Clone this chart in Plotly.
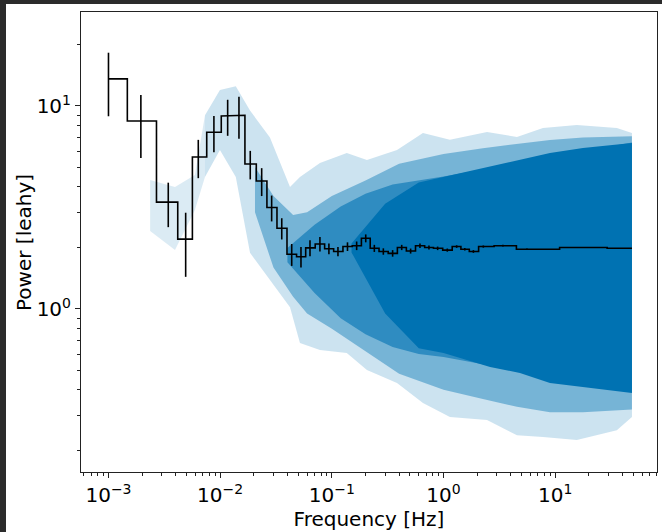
import plotly.graph_objects as go

# ---------------- data ----------------
# binned (black) power spectrum
bin_freq = [0.001, 0.00195, 0.00343, 0.00491, 0.00637, 0.00879, 0.01167, 0.01473,
            0.01859, 0.02353, 0.0289, 0.0356, 0.0437, 0.0529, 0.0637, 0.0782,
            0.0941, 0.1134, 0.138, 0.1667, 0.201, 0.240, 0.289, 0.350, 0.422,
            0.507, 0.615, 0.740, 0.885, 1.08, 1.31, 1.55, 1.85, 2.27, 3.40,
            5.58, 16.3, 42.0, 48.6]
bin_power = [13.6, 8.44, 3.36, 2.21, 5.61, 7.42, 8.93, 9.0,
             5.18, 4.27, 3.16, 2.50, 1.86, 1.81, 2.0, 2.09,
             1.98, 1.92, 2.03, 2.05, 2.23, 1.99, 1.92, 1.88, 2.01,
             1.93, 2.05, 2.01, 1.99, 1.95, 2.03, 1.97, 1.92, 2.03, 2.05,
             1.97, 2.01, 1.99, 1.99]
bin_err = [4.7, 2.9, 0.83, 0.77, 1.2, 1.5, 1.8, 2.1,
           0.83, 0.67, 0.46, 0.30, 0.23, 0.21, 0.18, 0.17,
           0.12, 0.10, 0.10, 0.10, 0.10, 0.08, 0.07, 0.07, 0.06,
           0.055, 0.05, 0.045, 0.04, 0.035, 0.03, 0.03, 0.03, 0.025, 0.02,
           0.015, 0.01, 0.01, 0.0]

# unbinned (blue) spectrum, drawn as density envelopes
low_freq = [0.00236, 0.00394, 0.00594, 0.00731]
low_hi = [4.32, 3.99, 4.57, 9.0]
low_lo = [2.42, 1.95, 3.07, 4.47]

outer_freq = [0.00731, 0.00995, 0.0138, 0.0185, 0.0279,
              0.0422, 0.0518, 0.0782, 0.136, 0.206, 0.383, 0.654, 1.14, 2.45,
              4.54, 7.76, 15.6, 35.6, 48.6]
outer_hi = [9.0, 12.0, 12.5, 9.5, 7.0,
            3.99, 4.47, 5.24, 5.86, 5.42, 6.07, 7.36, 6.81, 7.45,
            7.03, 7.80, 8.06, 7.80, 7.36]
outer_lo = [4.47, 6.07, 4.47, 1.89, 1.39,
            1.02, 0.680, 0.628, 0.607, 0.501, 0.432, 0.344, 0.294, 0.284,
            0.239, 0.234, 0.226, 0.253, 0.294]

mid_freq = [0.0205, 0.030, 0.045, 0.060, 0.100, 0.200, 0.400, 1.00, 2.25, 4.54, 8.97, 17.7, 48.6]
mid_hi = [5.0, 3.6, 2.9, 3.0, 3.6, 4.3, 5.2, 5.8, 6.2, 6.5, 6.8, 7.0, 7.1]
mid_lo = [3.0, 1.6, 1.15, 0.95, 0.80, 0.62, 0.48, 0.40, 0.36, 0.33, 0.31, 0.31, 0.32]

inner_freq = [0.040, 0.070, 0.120, 0.200, 0.350, 0.600, 1.00, 48.6]
inner_hi = [2.0, 2.6, 3.2, 3.7, 4.1, 4.3, 4.5, 6.6]
inner_lo = [1.7, 1.2, 0.90, 0.75, 0.65, 0.60, 0.58, 0.39]

core_freq = [0.150, 0.300, 0.600, 1.00, 2.61, 4.83, 8.97, 17.7, 48.6]
core_hi = [2.1, 3.3, 4.2, 4.47, 5.01, 5.42, 5.86, 6.21, 6.58]
core_lo = [1.9, 0.95, 0.64, 0.607, 0.518, 0.484, 0.432, 0.413, 0.386]

x_tickvals = [1e-3, 1e-2, 1e-1, 1e0, 1e1]
x_ticktext = ["10<sup>−3</sup>", "10<sup>−2</sup>", "10<sup>−1</sup>", "10<sup>0</sup>", "10<sup>1</sup>"]
y_tickvals = [1e0, 1e1]
y_ticktext = ["10<sup>0</sup>", "10<sup>1</sup>"]

BLUE = "#0072B2"
FONT = "DejaVu Sans"


def band(freq, hi, lo):
    return list(freq) + list(freq)[::-1], list(hi) + list(lo)[::-1]


def mid_steps(x, y):
    sx, sy = [x[0]], [y[0]]
    for i in range(1, len(x)):
        m = 0.5 * (x[i - 1] + x[i])
        sx += [m, m]
        sy += [y[i - 1], y[i]]
    sx.append(x[-1])
    sy.append(y[-1])
    return sx, sy


def minor_vals(lo_exp, hi_exp):
    return [k * 10.0 ** e for e in range(lo_exp, hi_exp + 1) for k in range(2, 10)]


fig = go.Figure()

for (f, hi, lo, col) in [
    (low_freq, low_hi, low_lo, "rgba(0,114,178,0.14)"),
    (outer_freq, outer_hi, outer_lo, "rgba(0,114,178,0.20)"),
    (mid_freq, mid_hi, mid_lo, "rgba(0,114,178,0.42)"),
    (inner_freq, inner_hi, inner_lo, "rgba(0,114,178,0.60)"),
    (core_freq, core_hi, core_lo, BLUE),
]:
    bx, by = band(f, hi, lo)
    fig.add_trace(go.Scatter(x=bx, y=by, fill="toself", fillcolor=col, mode="lines",
                             line=dict(width=0), hoverinfo="skip", showlegend=False))

sx, sy = mid_steps(bin_freq, bin_power)
fig.add_trace(go.Scatter(x=sx, y=sy, mode="lines", line=dict(color="black", width=1.6),
                         showlegend=False))
fig.add_trace(go.Scatter(x=bin_freq, y=bin_power, mode="markers",
                         marker=dict(size=1, color="rgba(0,0,0,0)"),
                         error_y=dict(type="data", array=bin_err, visible=True,
                                      width=0, thickness=1.6, color="black"),
                         showlegend=False))

L, R, T, B = 81, 5, 12, 60
W, H = 662, 532
pw, ph = W - L - R, H - T - B
DARK = "#2b2b2b"
shapes = [
    dict(type="rect", xref="paper", yref="paper",
         x0=-L / pw, x1=(6 - L) / pw, y0=-B / ph, y1=1 + T / ph,
         fillcolor=DARK, line=dict(width=0), layer="above"),
    dict(type="rect", xref="paper", yref="paper",
         x0=-L / pw, x1=(W - L) / pw, y0=1 + (T - 4) / ph, y1=1 + T / ph,
         fillcolor=DARK, line=dict(width=0), layer="above"),
]


def axis_common(minor_ticks):
    return dict(showline=True, linecolor="#222", linewidth=1, mirror=True,
                ticks="outside", ticklen=5, tickwidth=1, tickcolor="#222",
                showgrid=False, zeroline=False,
                tickfont=dict(family=FONT, size=20, color="black"),
                minor=dict(ticks="outside", ticklen=3, tickwidth=0.8,
                           tickcolor="#222", showgrid=False,
                           tickmode="array", tickvals=minor_ticks))


fig.update_layout(
    width=W, height=H,
    margin=dict(l=L, r=R, t=T, b=B),
    paper_bgcolor="white", plot_bgcolor="white",
    font=dict(family=FONT, size=20, color="black"),
    shapes=shapes,
    xaxis=dict(type="log", range=[-3.246, 1.911],
               tickvals=x_tickvals, ticktext=x_ticktext,
               title=dict(text="Frequency [Hz]", font=dict(family=FONT, size=20), standoff=2),
               **axis_common(minor_vals(-4, 1))),
    yaxis=dict(type="log", range=[-0.803, 1.463],
               tickvals=y_tickvals, ticktext=y_ticktext,
               **axis_common(minor_vals(-1, 1))),
    annotations=[dict(text="Power [leahy]", xref="paper", yref="paper",
                      x=(24 - L) / pw, y=(H - B - 243) / ph, textangle=-90,
                      showarrow=False, xanchor="center", yanchor="middle",
                      font=dict(family=FONT, size=20, color="black"))],
)

fig.write_html("out.html")
